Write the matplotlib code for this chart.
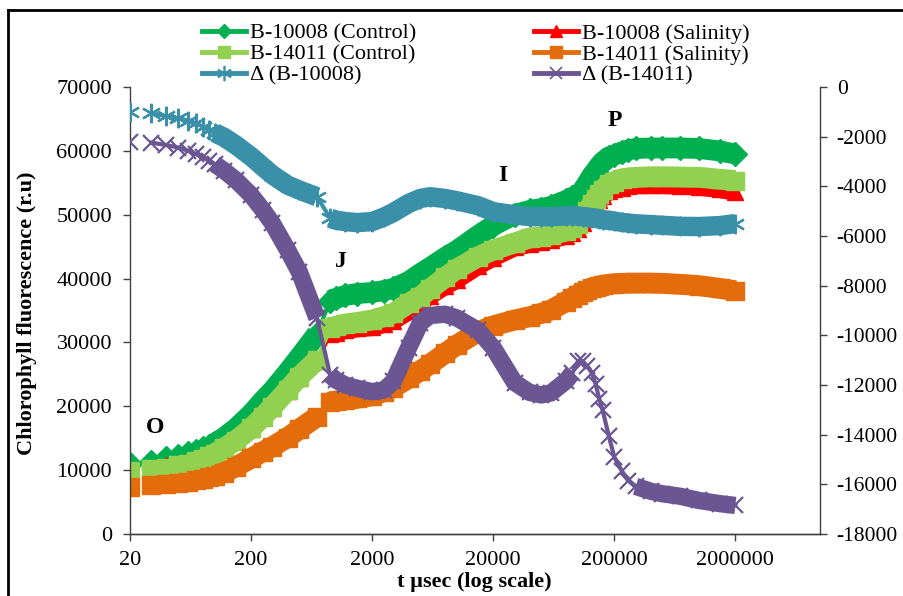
import numpy as np
import matplotlib
matplotlib.use("Agg")
import matplotlib.pyplot as plt
from matplotlib.lines import Line2D
from matplotlib.ticker import FixedLocator, NullLocator, FuncFormatter

plt.rcParams["font.family"] = ["Liberation Serif", "DejaVu Serif"]
plt.rcParams["axes.unicode_minus"] = False

# sampling times, µs
t_us = [20, 30, 40, 50, 60, 70, 80, 90, 100, 120, 150, 200, 250, 300, 400, 500, 700,
        900, 1000, 1200, 1500, 2000, 2500, 3000, 4000, 5000, 6000, 8000, 10000, 15000,
        20000, 30000, 40000, 50000, 60000, 80000, 90000,
        100000, 110000, 120000, 130000, 140000, 150000, 160000, 180000, 200000, 230000,
        260000, 300000,
        400000, 500000, 700000, 1000000, 1500000, 2000000]

# fluorescence (left axis, r.u.)
ctrl_10008 = [10960, 11320, 11900, 12260, 12680, 13040, 13420, 13830, 14200, 15140, 16550,
              18790, 20870, 22440, 25320, 27670, 31300,
              36560, 36880, 37350, 37660, 37820, 38130, 38450, 39540, 40790, 41730, 43300,
              44400, 46750, 48310, 50030, 50660, 50970, 51290, 52230, 52700,
              52930, 53870, 54970, 56060, 56850, 57630, 58250, 59040, 59350, 59820, 60130, 60370,
              60450, 60450, 60450, 60370, 59980, 59500]
salt_10008 = [9970, 10260, 10730, 11000, 11330, 11580, 11820, 12100, 12360, 13250, 14500,
              16450, 18250, 19800, 22400, 24450, 27050,
              31250, 31520, 31930, 32200, 32400, 32890, 33430, 34850, 36300, 37310, 38810,
              39820, 41970, 43290, 44880, 45440, 45750, 46070, 46700, 47200,
              47730, 48650, 49730, 50800, 51570, 52320, 52910, 53670, 53950, 54250, 54450, 54600,
              54650, 54650, 54550, 54400, 54000, 53600]
ctrl_14011 = [9790, 10180, 10410, 10730, 11040, 11380, 11740, 12170, 12600, 13470, 14640,
              16550, 18370, 19930, 22550, 24630, 27250,
              32210, 32500, 32890, 33120, 33510, 34030, 34560, 36130, 37160, 38370, 40170,
              41500, 43420, 44470, 45570, 46350, 46560, 46830, 47450, 47900,
              48600, 49600, 50600, 51600, 52400, 53200, 53900, 54800, 55200, 55600, 55750, 55850,
              55950, 55950, 55900, 55850, 55550, 55350]
salt_14011 = [7410, 7670, 7780, 7940, 8190, 8410, 8580, 8850, 9110, 9630, 10540,
              11850, 12890, 13670, 15110, 16410, 18370,
              20720, 20830, 20980, 21250, 21640, 22290, 22940, 24380, 25560, 26590, 28290,
              29600, 31680, 32600, 33510, 34030, 34560, 35080, 36400, 37000,
              37500, 37900, 38200, 38500, 38700, 38850, 38950, 39100, 39200, 39250, 39300, 39300,
              39300, 39250, 39100, 38900, 38450, 38100]

# salinity minus control (right axis)
delta_10008 = [-995, -1060, -1170, -1260, -1355, -1460, -1600, -1730, -1840, -2030, -2340,
               -2800, -3210, -3540, -3950, -4150, -4420,
               -5280, -5360, -5420, -5460, -5420, -5240, -5050, -4690, -4490, -4420, -4490,
               -4580, -4780, -5020, -5150, -5220, -5220, -5220, -5190, -5180,
               -5200, -5220, -5240, -5260, -5280, -5310, -5340, -5370, -5400, -5450, -5480, -5510,
               -5540, -5570, -5610, -5620, -5580, -5500]
delta_14011 = [-2200, -2240, -2340, -2440, -2560, -2700, -2830, -2970, -3100, -3370, -3750,
               -4350, -4950, -5490, -6560, -7440, -9300,
               -11600, -11800, -12000, -12130, -12270, -12200, -11850, -10500, -9500, -9200,
               -9150, -9300, -9800, -10500, -11900, -12300, -12400, -12320, -11830, -11520,
               -11050, -11050, -11250, -11500, -11950, -12550, -13000, -14050, -14900, -15450,
               -15850, -16080,
               -16280, -16380, -16480, -16650, -16780, -16850]

# where the recorder samples densely enough for the markers to merge into a band
band_spans = [(100, 700), (900, 2000000)]
band_spans_split = [(100, 700), (900, 90000), (300000, 2000000)]
# first sample is not joined to the rest
line_spans = [(20, 20), (30, 2000000)]

x_ticks = [20, 200, 2000, 20000, 200000, 2000000]

GREEN, RED, LGREEN, ORANGE = "#00B050", "#FF0000", "#92D050", "#E46C0A"
TEAL, PURPLE = "#3A8FA9", "#6C5593"
AXC = "#404040"


def draw(ax, vals, color, marker, ms, band, spans=band_spans, filled=True):
    t = np.asarray(t_us, float)
    y = np.asarray(vals, float)
    for a, b in spans:
        m = (t >= a) & (t <= b)
        ax.plot(t[m], y[m], color=color, lw=band, solid_capstyle="butt",
                solid_joinstyle="round")
    for a, b in line_spans:
        m = (t >= a) & (t <= b)
        ax.plot(t[m], y[m], color=color, lw=3)
    if filled:
        ax.plot(t, y, ls="none", marker=marker, ms=ms, color=color, mec=color)
    else:
        ax.plot(t, y, ls="none", marker=marker, ms=ms, color=color, mew=1.6)


fig = plt.figure(figsize=(9.04, 5.96), dpi=100)
ax = fig.add_axes([130 / 904, 1 - 534 / 596, 690 / 904, 447 / 596])
ax2 = ax.twinx()

draw(ax, ctrl_10008, GREEN, "D", 12, 15)
draw(ax, salt_10008, RED, "^", 12, 13)
draw(ax, ctrl_14011, LGREEN, "s", 13, 15)
draw(ax, salt_14011, ORANGE, "s", 13, 15)
draw(ax2, delta_10008, TEAL, (6, 2, 0), 14, 14, filled=False)
draw(ax2, delta_14011, PURPLE, "x", 12, 12.5, spans=band_spans_split, filled=False)

ax.set_xscale("log")
ax.set_xlim(20, 1e7)
ax.xaxis.set_major_locator(FixedLocator(x_ticks))
ax.xaxis.set_minor_locator(NullLocator())
ax.xaxis.set_major_formatter(FuncFormatter(lambda v, p: f"{v:.0f}"))
ax.set_ylim(0, 70000)
ax.set_yticks(np.arange(0, 70001, 10000))
ax2.set_ylim(-18000, 0)
ax2.set_yticks(np.arange(-18000, 1, 2000))

for a in (ax, ax2):
    a.spines["top"].set_visible(False)
    for s in a.spines.values():
        s.set_color(AXC)
        s.set_linewidth(1.0)
    a.tick_params(direction="out", length=5, width=1, color=AXC, labelsize=16,
                  labelcolor="black")
ax.spines["right"].set_visible(False)
ax2.spines["left"].set_visible(False)
ax.tick_params(axis="y", pad=8)
ax.tick_params(axis="x", pad=7)
ax2.tick_params(axis="y", pad=7, labelsize=15.5)

ax.set_ylabel("Chlorophyll fluorescence (r.u)", fontsize=16, fontweight="bold")
ax.yaxis.set_label_coords(-0.135, 0.494)
ax.set_xlabel("t µsec (log scale)", fontsize=16, fontweight="bold")
ax.xaxis.set_label_coords(0.4986, -0.085)

for txt, xv, yv in (("O", 32, 16600), ("J", 1100, 42600), ("I", 24000, 56200),
                    ("P", 200000, 64800)):
    ax.text(xv, yv, txt, fontsize=17, fontweight="bold", ha="center", va="center")

handles = [
    Line2D([], [], color=GREEN, lw=3.5, marker="D", ms=7),
    Line2D([], [], color=LGREEN, lw=3.5, marker="s", ms=8),
    Line2D([], [], color=TEAL, lw=3.5, marker=(6, 2, 0), ms=11, mew=1.2),
    Line2D([], [], color=RED, lw=3.5, marker="^", ms=8),
    Line2D([], [], color=ORANGE, lw=3.5, marker="s", ms=8),
    Line2D([], [], color=PURPLE, lw=3.5, marker="x", ms=9, mew=1.2),
]
labels = ["B-10008 (Control)", "B-14011 (Control)", "\u0394 (B-10008)",
          "B-10008 (Salinity)", "B-14011 (Salinity)", "\u0394 (B-14011)"]
fig.legend(handles, labels, ncol=2, loc="upper left",
           bbox_to_anchor=(202 / 904, 1 - 23 / 596), frameon=False, fontsize=16,
           handlelength=2.0, handletextpad=0.15, columnspacing=5.3,
           labelspacing=0.02, borderpad=0, borderaxespad=0)

# frame round the picture (only its left and top edges are in view)
fig.add_artist(Line2D([8 / 904, 8 / 904], [0, 1 - 10 / 596], transform=fig.transFigure,
                      color="black", lw=2))
fig.add_artist(Line2D([8 / 904, 1], [1 - 10 / 596, 1 - 10 / 596],
                      transform=fig.transFigure, color="black", lw=2))

fig.savefig("out.png", dpi=100)
